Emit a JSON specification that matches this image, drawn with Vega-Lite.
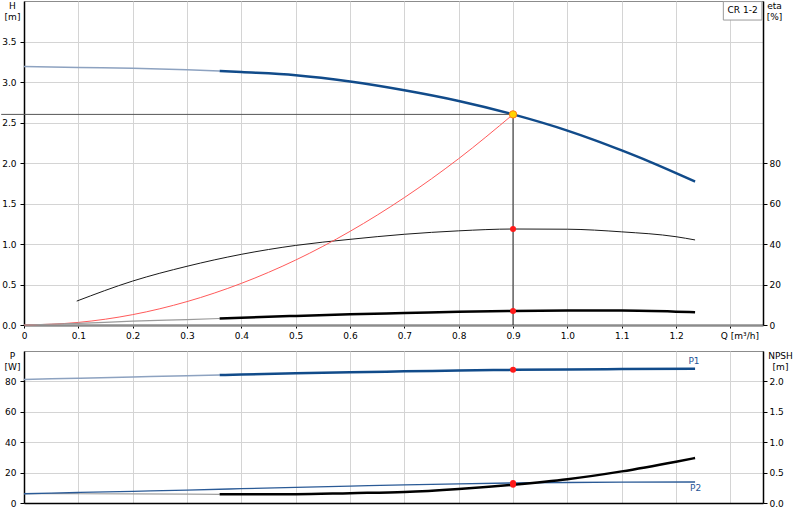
{
 "$schema": "https://vega.github.io/schema/vega-lite/v6.json",
 "padding": {"left": 0, "top": 0, "right": 0, "bottom": 0},
 "autosize": {"type": "pad"},
 "background": "white",
 "config": {
  "font": "DejaVu Sans",
  "view": {"stroke": "#8c8c8c", "strokeWidth": 1},
  "axis": {"labelFont": "DejaVu Sans", "labelFontSize": 9, "labelColor": "#000", "titleFont": "DejaVu Sans", "titleFontSize": 9, "titleFontWeight": "normal", "titleColor": "#000", "gridColor": "#d4d4d4", "gridWidth": 1, "domainColor": "#000", "domainWidth": 1.5, "tickColor": "#000", "tickSize": 4, "labelPadding": 2, "labelOverlap": false, "labelFlush": false},
  "text": {"font": "DejaVu Sans", "fontSize": 9}
 },
 "datasets": {
  "H": [{"q":0,"h":3.19},{"q":0.1,"h":3.18},{"q":0.2,"h":3.17},{"q":0.3,"h":3.152},{"q":0.36,"h":3.136},{"q":0.4,"h":3.122},{"q":0.5,"h":3.083},{"q":0.6,"h":3.005},{"q":0.7,"h":2.897},{"q":0.8,"h":2.765},{"q":0.9,"h":2.6},{"q":1.0,"h":2.4},{"q":1.05,"h":2.283},{"q":1.1,"h":2.155},{"q":1.15,"h":2.02},{"q":1.2,"h":1.875},{"q":1.235,"h":1.77}],
  "sys": [{"q":0,"h":0},{"q":0.1,"h":0.032},{"q":0.2,"h":0.128},{"q":0.3,"h":0.289},{"q":0.4,"h":0.514},{"q":0.5,"h":0.802},{"q":0.6,"h":1.156},{"q":0.7,"h":1.573},{"q":0.8,"h":2.054},{"q":0.9,"h":2.6}],
  "eta": [{"q":0.097,"e":11.8},{"q":0.2,"e":21.7},{"q":0.3,"e":29.0},{"q":0.4,"e":34.9},{"q":0.5,"e":39.3},{"q":0.6,"e":42.3},{"q":0.7,"e":44.8},{"q":0.8,"e":46.5},{"q":0.9,"e":47.4},{"q":1.0,"e":47.3},{"q":1.1,"e":46.0},{"q":1.2,"e":43.6},{"q":1.235,"e":42.0}],
  "etaT": [{"q":0,"e":0},{"q":0.1,"e":0.8},{"q":0.2,"e":1.9},{"q":0.3,"e":2.7},{"q":0.36,"e":3.2},{"q":0.4,"e":3.6},{"q":0.5,"e":4.5},{"q":0.6,"e":5.3},{"q":0.7,"e":5.9},{"q":0.8,"e":6.5},{"q":0.9,"e":6.9},{"q":1.0,"e":7.1},{"q":1.1,"e":7.1},{"q":1.2,"e":6.6},{"q":1.235,"e":6.3}],
  "P1": [{"q":0,"p":81.3},{"q":0.1,"p":82.1},{"q":0.2,"p":82.9},{"q":0.3,"p":83.7},{"q":0.36,"p":84.2},{"q":0.4,"p":84.5},{"q":0.5,"p":85.3},{"q":0.6,"p":86.0},{"q":0.7,"p":86.6},{"q":0.8,"p":87.2},{"q":0.9,"p":87.6},{"q":1.0,"p":87.9},{"q":1.1,"p":88.1},{"q":1.235,"p":88.3}],
  "P2": [{"q":0,"p":6.1},{"q":0.1,"p":6.9},{"q":0.2,"p":7.7},{"q":0.3,"p":8.5},{"q":0.4,"p":9.4},{"q":0.5,"p":10.3},{"q":0.6,"p":11.1},{"q":0.7,"p":11.9},{"q":0.8,"p":12.6},{"q":0.9,"p":13.2},{"q":1.0,"p":13.5},{"q":1.1,"p":13.7},{"q":1.235,"p":13.8}],
  "NPSH": [{"q":0,"n":0.155},{"q":0.1,"n":0.152},{"q":0.2,"n":0.15},{"q":0.3,"n":0.146},{"q":0.36,"n":0.143},{"q":0.5,"n":0.145},{"q":0.6,"n":0.162},{"q":0.7,"n":0.18},{"q":0.8,"n":0.23},{"q":0.9,"n":0.3},{"q":1.0,"n":0.39},{"q":1.1,"n":0.52},{"q":1.2,"n":0.68},{"q":1.235,"n":0.74}],
  "refH": [{"q":-0.042,"q2":0.9,"h":2.6}],
  "refV": [{"q":0.9,"h":0,"h2":2.6}],
  "opPt": [{"q":0.9,"h":2.6}],
  "box": [{"q1":1.287,"q2":1.358,"h1":3.765,"h2":3.993,"tq":1.3225,"th":3.885,"t":"CR 1-2"}],
  "ptsEta": [{"q":0.9,"e":47.4},{"q":0.9,"e":6.9}],
  "ptsP": [{"q":0.9,"p":87.6},{"q":0.9,"p":13.2}],
  "ptsN": [{"q":0.9,"n":0.3}],
  "plabels": [{"q":1.233,"p":93.6,"t":"P1"},{"q":1.236,"p":9.8,"t":"P2"}]
 },
 "bounds": "flush",
 "spacing": 26,
 "vconcat": [
  {
   "width": 739,
   "height": 324,
   "resolve": {"scale": {"y": "independent"}},
   "layer": [
     {"data": {"name": "H"}, "transform": [{"filter": "datum.q <= 0.36"}],
      "mark": {"type": "line", "interpolate": "monotone", "color": "#8da2c0", "strokeWidth": 1.5},
      "encoding": {
       "x": {"field": "q", "type": "quantitative", "scale": {"domain": [0, 1.36], "nice": false, "zero": false},
        "axis": {"values": [0,0.1,0.2,0.3,0.4,0.5,0.6,0.7,0.8,0.9,1.0,1.1,1.2,1.3], "title": null, "grid": true,
         "labelExpr": "datum.value > 1.25 ? 'Q [m³/h]' : (datum.value == 0 ? '0' : format(datum.value, '.1f'))",
         "labelOffset": {"condition": {"test": "datum.value > 1.25", "value": 9}, "value": 0},
         "domainColor": "#8c8c8c", "domainWidth": 2.5, "tickSize": 3, "labelPadding": 3}},
       "y": {"field": "h", "type": "quantitative", "scale": {"domain": [0, 4], "nice": false},
        "axis": {"orient": "left", "values": [0,0.5,1,1.5,2,2.5,3,3.5], "format": ".1f", "grid": true, "labelPadding": 4,
         "title": ["H", "[m]"], "titleAngle": 0, "titleAlign": "center", "titleBaseline": "top", "titleX": -12, "titleY": 0, "titleLineHeight": 11}}
      }},
     {"data": {"name": "eta"},
      "mark": {"type": "line", "interpolate": "monotone", "color": "#1a1a1a", "strokeWidth": 1},
      "encoding": {
       "x": {"field": "q", "type": "quantitative"},
       "y": {"field": "e", "type": "quantitative", "scale": {"domain": [0, 160], "nice": false},
        "axis": {"orient": "right", "values": [0,20,40,60,80], "grid": false, "labelPadding": 2,
         "title": ["eta", "[%]"], "titleAngle": 0, "titleAlign": "center", "titleBaseline": "top", "titleX": 11, "titleY": 0, "titleLineHeight": 11}}
      }},
     {"data": {"name": "H"}, "transform": [{"filter": "datum.q >= 0.36"}],
      "mark": {"type": "line", "interpolate": "monotone", "color": "#114b8a", "strokeWidth": 2.5},
      "encoding": {"x": {"field": "q", "type": "quantitative"}, "y": {"field": "h", "type": "quantitative", "scale": {"domain": [0, 4], "nice": false}, "axis": null}}},
     {"data": {"name": "sys"},
      "mark": {"type": "line", "interpolate": "monotone", "color": "#ff5a5a", "strokeWidth": 1},
      "encoding": {"x": {"field": "q", "type": "quantitative"}, "y": {"field": "h", "type": "quantitative", "scale": {"domain": [0, 4], "nice": false}, "axis": null}}},
     {"data": {"name": "refH"},
      "mark": {"type": "rule", "color": "#555", "strokeWidth": 1},
      "encoding": {"x": {"field": "q", "type": "quantitative"}, "x2": {"field": "q2"}, "y": {"field": "h", "type": "quantitative", "scale": {"domain": [0, 4], "nice": false}, "axis": null}}},
     {"data": {"name": "refV"},
      "mark": {"type": "rule", "color": "#222", "strokeWidth": 1},
      "encoding": {"x": {"field": "q", "type": "quantitative"}, "y": {"field": "h", "type": "quantitative", "scale": {"domain": [0, 4], "nice": false}, "axis": null}, "y2": {"field": "h2"}}},
     {"data": {"name": "etaT"}, "transform": [{"filter": "datum.q <= 0.36"}],
      "mark": {"type": "line", "interpolate": "monotone", "color": "#9a9a9a", "strokeWidth": 1.2},
      "encoding": {"x": {"field": "q", "type": "quantitative"}, "y": {"field": "e", "type": "quantitative", "scale": {"domain": [0, 160], "nice": false}, "axis": null}}},
     {"data": {"name": "etaT"}, "transform": [{"filter": "datum.q >= 0.36"}],
      "mark": {"type": "line", "interpolate": "monotone", "color": "#000", "strokeWidth": 2.5},
      "encoding": {"x": {"field": "q", "type": "quantitative"}, "y": {"field": "e", "type": "quantitative", "scale": {"domain": [0, 160], "nice": false}, "axis": null}}},
     {"data": {"name": "box"},
      "mark": {"type": "rect", "fill": "white", "stroke": "#9a9a9a", "strokeWidth": 1},
      "encoding": {"x": {"field": "q1", "type": "quantitative"}, "x2": {"field": "q2"}, "y": {"field": "h1", "type": "quantitative", "scale": {"domain": [0, 4], "nice": false}, "axis": null}, "y2": {"field": "h2"}}},
     {"data": {"name": "box"},
      "mark": {"type": "text", "color": "#000", "fontSize": 9, "align": "center", "baseline": "middle"},
      "encoding": {"x": {"field": "tq", "type": "quantitative"}, "y": {"field": "th", "type": "quantitative", "scale": {"domain": [0, 4], "nice": false}, "axis": null}, "text": {"field": "t"}}},
     {"data": {"name": "ptsEta"},
      "mark": {"type": "circle", "fill": "#ff1a1a", "opacity": 1, "size": 36},
      "encoding": {"x": {"field": "q", "type": "quantitative"}, "y": {"field": "e", "type": "quantitative", "scale": {"domain": [0, 160], "nice": false}, "axis": null}}},
     {"data": {"name": "opPt"},
      "mark": {"type": "circle", "fill": "#ffd400", "stroke": "#ff7a1a", "strokeWidth": 1, "opacity": 1, "size": 55},
      "encoding": {"x": {"field": "q", "type": "quantitative"}, "y": {"field": "h", "type": "quantitative", "scale": {"domain": [0, 4], "nice": false}, "axis": null}}}
   ]
  },
  {
   "width": 739,
   "height": 152,
   "resolve": {"scale": {"y": "independent"}},
   "layer": [
     {"data": {"name": "P1"}, "transform": [{"filter": "datum.q <= 0.36"}],
      "mark": {"type": "line", "interpolate": "monotone", "color": "#8da2c0", "strokeWidth": 1.5},
      "encoding": {
       "x": {"field": "q", "type": "quantitative", "scale": {"domain": [0, 1.36], "nice": false, "zero": false},
        "axis": {"values": [0,0.1,0.2,0.3,0.4,0.5,0.6,0.7,0.8,0.9,1.0,1.1,1.2,1.3], "title": null, "grid": true, "labels": false, "ticks": false, "domainColor": "#000", "domainWidth": 1.5}},
       "y": {"field": "p", "type": "quantitative", "scale": {"domain": [0, 100], "nice": false},
        "axis": {"orient": "left", "values": [0,20,40,60,80], "grid": true, "labelPadding": 4,
         "title": ["P", "[W]"], "titleAngle": 0, "titleAlign": "center", "titleBaseline": "top", "titleX": -12, "titleY": 0, "titleLineHeight": 11}}
      }},
     {"data": {"name": "NPSH"}, "transform": [{"filter": "datum.q <= 0.36"}],
      "mark": {"type": "line", "interpolate": "monotone", "color": "#a0a0a0", "strokeWidth": 1.2},
      "encoding": {
       "x": {"field": "q", "type": "quantitative"},
       "y": {"field": "n", "type": "quantitative", "scale": {"domain": [0, 2.5], "nice": false},
        "axis": {"orient": "right", "values": [0,0.5,1,1.5,2], "format": ".1f", "grid": false, "labelPadding": 2,
         "title": ["NPSH", "[m]"], "titleAngle": 0, "titleAlign": "center", "titleBaseline": "top", "titleX": 17, "titleY": 0, "titleLineHeight": 11}}
      }},
     {"data": {"name": "P1"}, "transform": [{"filter": "datum.q >= 0.36"}],
      "mark": {"type": "line", "interpolate": "monotone", "color": "#114b8a", "strokeWidth": 2.5},
      "encoding": {"x": {"field": "q", "type": "quantitative"}, "y": {"field": "p", "type": "quantitative", "scale": {"domain": [0, 100], "nice": false}, "axis": null}}},
     {"data": {"name": "P2"},
      "mark": {"type": "line", "interpolate": "monotone", "color": "#2a5a96", "strokeWidth": 1.3},
      "encoding": {"x": {"field": "q", "type": "quantitative"}, "y": {"field": "p", "type": "quantitative", "scale": {"domain": [0, 100], "nice": false}, "axis": null}}},
     {"data": {"name": "NPSH"}, "transform": [{"filter": "datum.q >= 0.36"}],
      "mark": {"type": "line", "interpolate": "monotone", "color": "#000", "strokeWidth": 2.5},
      "encoding": {"x": {"field": "q", "type": "quantitative"}, "y": {"field": "n", "type": "quantitative", "scale": {"domain": [0, 2.5], "nice": false}, "axis": null}}},
     {"data": {"name": "plabels"},
      "mark": {"type": "text", "color": "#1f5596", "fontSize": 9, "align": "center", "baseline": "middle"},
      "encoding": {"x": {"field": "q", "type": "quantitative"}, "y": {"field": "p", "type": "quantitative", "scale": {"domain": [0, 100], "nice": false}, "axis": null}, "text": {"field": "t"}}},
     {"data": {"name": "ptsP"},
      "mark": {"type": "circle", "fill": "#ff1a1a", "opacity": 1, "size": 36},
      "encoding": {"x": {"field": "q", "type": "quantitative"}, "y": {"field": "p", "type": "quantitative", "scale": {"domain": [0, 100], "nice": false}, "axis": null}}},
     {"data": {"name": "ptsN"},
      "mark": {"type": "circle", "fill": "#ff1a1a", "opacity": 1, "size": 36},
      "encoding": {"x": {"field": "q", "type": "quantitative"}, "y": {"field": "n", "type": "quantitative", "scale": {"domain": [0, 2.5], "nice": false}, "axis": null}}}
   ]
  }
 ]
}
